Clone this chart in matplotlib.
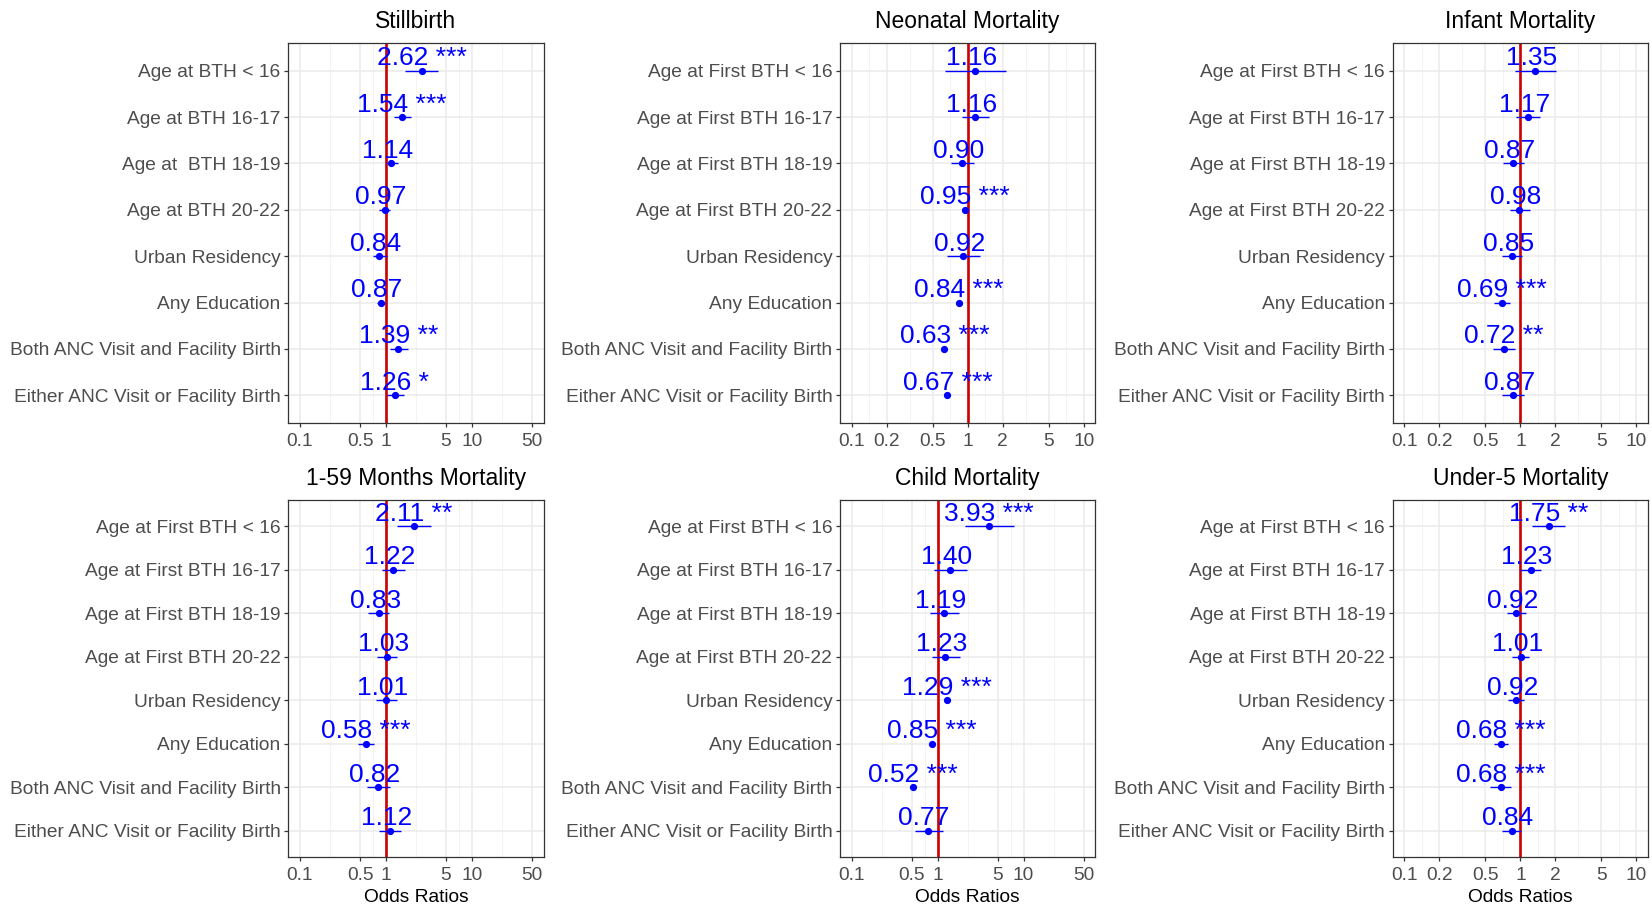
import numpy as np
import matplotlib
matplotlib.use("Agg")
import matplotlib.pyplot as plt
from matplotlib.transforms import offset_copy

plt.rcParams["font.family"] = ["Liberation Sans", "DejaVu Sans"]

# row labels
labels_sb = ["Age at BTH < 16", "Age at BTH 16-17", "Age at  BTH 18-19", "Age at BTH 20-22",
             "Urban Residency", "Any Education", "Both ANC Visit and Facility Birth",
             "Either ANC Visit or Facility Birth"]
labels_first = ["Age at First BTH < 16", "Age at First BTH 16-17", "Age at First BTH 18-19",
                "Age at First BTH 20-22", "Urban Residency", "Any Education",
                "Both ANC Visit and Facility Birth", "Either ANC Visit or Facility Birth"]

titles = ["Stillbirth", "Neonatal Mortality", "Infant Mortality",
          "1-59 Months Mortality", "Child Mortality", "Under-5 Mortality"]

# odds ratios
or_sb = [2.62, 1.54, 1.14, 0.97, 0.84, 0.87, 1.39, 1.26]
or_nn = [1.16, 1.16, 0.90, 0.95, 0.92, 0.84, 0.63, 0.67]
or_inf = [1.35, 1.17, 0.87, 0.98, 0.85, 0.69, 0.72, 0.87]
or_159 = [2.11, 1.22, 0.83, 1.03, 1.01, 0.58, 0.82, 1.12]
or_ch = [3.93, 1.40, 1.19, 1.23, 1.29, 0.85, 0.52, 0.77]
or_u5 = [1.75, 1.23, 0.92, 1.01, 0.92, 0.68, 0.68, 0.84]

# confidence intervals
lo_sb = [1.69, 1.24, 1.00, 0.83, 0.70, 0.79, 1.11, 1.04]
hi_sb = [4.00, 1.97, 1.38, 1.13, 1.02, 0.97, 1.80, 1.62]
lo_nn = [0.64, 0.90, 0.72, 0.93, 0.67, 0.82, 0.61, 0.65]
hi_nn = [2.12, 1.53, 1.13, 0.98, 1.27, 0.86, 0.65, 0.69]
lo_inf = [0.90, 0.92, 0.71, 0.81, 0.70, 0.59, 0.58, 0.70]
hi_inf = [2.02, 1.48, 1.08, 1.20, 1.03, 0.81, 0.90, 1.08]
lo_159 = [1.33, 0.91, 0.62, 0.79, 0.77, 0.47, 0.61, 0.83]
hi_159 = [3.38, 1.66, 1.09, 1.35, 1.33, 0.73, 1.11, 1.51]
lo_ch = [2.09, 0.92, 0.82, 0.87, 1.25, 0.82, 0.49, 0.54]
hi_ch = [7.65, 2.19, 1.76, 1.80, 1.33, 0.88, 0.55, 1.15]
lo_u5 = [1.27, 1.00, 0.76, 0.85, 0.78, 0.59, 0.55, 0.69]
hi_u5 = [2.42, 1.50, 1.11, 1.19, 1.07, 0.78, 0.83, 1.02]

# significance stars
st_sb = ["***", "***", "", "", "", "", "**", "*"]
st_nn = ["", "", "", "***", "", "***", "***", "***"]
st_inf = ["", "", "", "", "", "***", "**", ""]
st_159 = ["**", "", "", "", "", "***", "", ""]
st_ch = ["***", "", "", "", "***", "***", "***", ""]
st_u5 = ["**", "", "", "", "", "***", "***", ""]

breaks_wide = [0.1, 0.5, 1, 5, 10, 50]
breaks_narrow = [0.1, 0.2, 0.5, 1, 2, 5, 10]

panels = [
    (labels_sb, or_sb, lo_sb, hi_sb, st_sb, breaks_wide),
    (labels_first, or_nn, lo_nn, hi_nn, st_nn, breaks_narrow),
    (labels_first, or_inf, lo_inf, hi_inf, st_inf, breaks_narrow),
    (labels_first, or_159, lo_159, hi_159, st_159, breaks_wide),
    (labels_first, or_ch, lo_ch, hi_ch, st_ch, breaks_wide),
    (labels_first, or_u5, lo_u5, hi_u5, st_u5, breaks_narrow),
]

W, H = 1652, 906
fig = plt.figure(figsize=(W / 100, H / 100), dpi=100)

lefts = [288.3, 840.0, 1392.7]
aw = 255.3
rows = [(43, 423), (500, 857)]

for i, (labs, orv, lo, hi, st, br) in enumerate(panels):
    r, c = divmod(i, 3)
    top, bot = rows[r]
    ax = fig.add_axes([lefts[c] / W, 1 - bot / H, aw / W, (bot - top) / H])
    ax.set_xscale("log")
    lmin, lmax = np.log10(br[0]), np.log10(br[-1])
    pad = 0.05 * (lmax - lmin)
    ax.set_xlim(10 ** (lmin - pad), 10 ** (lmax + pad))
    ax.set_ylim(len(labs) - 0.4, -0.6)

    # grid: majors at breaks, minors halfway in log space
    lb = np.log10(br)
    minors = 10 ** ((lb[:-1] + lb[1:]) / 2)
    for m in minors:
        ax.axvline(m, color="#F3F3F3", lw=0.7, zorder=0)
    for b in br:
        ax.axvline(b, color="#EBEBEB", lw=1.1, zorder=0)
    yy = np.arange(len(labs))
    for y in yy:
        ax.axhline(y, color="#EBEBEB", lw=1.1, zorder=0)

    ax.axvline(1, color="#CC0000", lw=1.9, zorder=2)

    ax.hlines(yy, lo, hi, color="#0000FF", lw=1.0, zorder=3)
    ax.plot(orv, yy, "o", color="#0000FF", ms=4.2, zorder=4)

    tr = offset_copy(ax.transData, fig=fig, x=0, y=4, units="points")
    for x, y, s in zip(orv, yy, st):
        ax.text(x, y, f"{x:.2f} {s}", transform=tr, ha="center", va="baseline",
                color="#0000FF", fontsize=19, zorder=5)

    ax.set_xticks(br)
    ax.set_xticklabels([f"{b:g}" for b in br])
    ax.minorticks_off()
    ax.set_yticks(yy)
    ax.set_yticklabels(labs)
    ax.tick_params(axis="both", labelsize=13.8, labelcolor="#4D4D4D", color="#333333",
                   length=3, width=0.9, pad=2.5)
    ax.tick_params(axis="x", pad=4)
    for sp in ax.spines.values():
        sp.set_color("#333333")
        sp.set_linewidth(0.9)
    ax.set_title(titles[i], fontsize=16.5, pad=11)
    if r == 1:
        ax.set_xlabel("Odds Ratios", fontsize=13.8, labelpad=4)

plt.savefig("out.png", dpi=100)
